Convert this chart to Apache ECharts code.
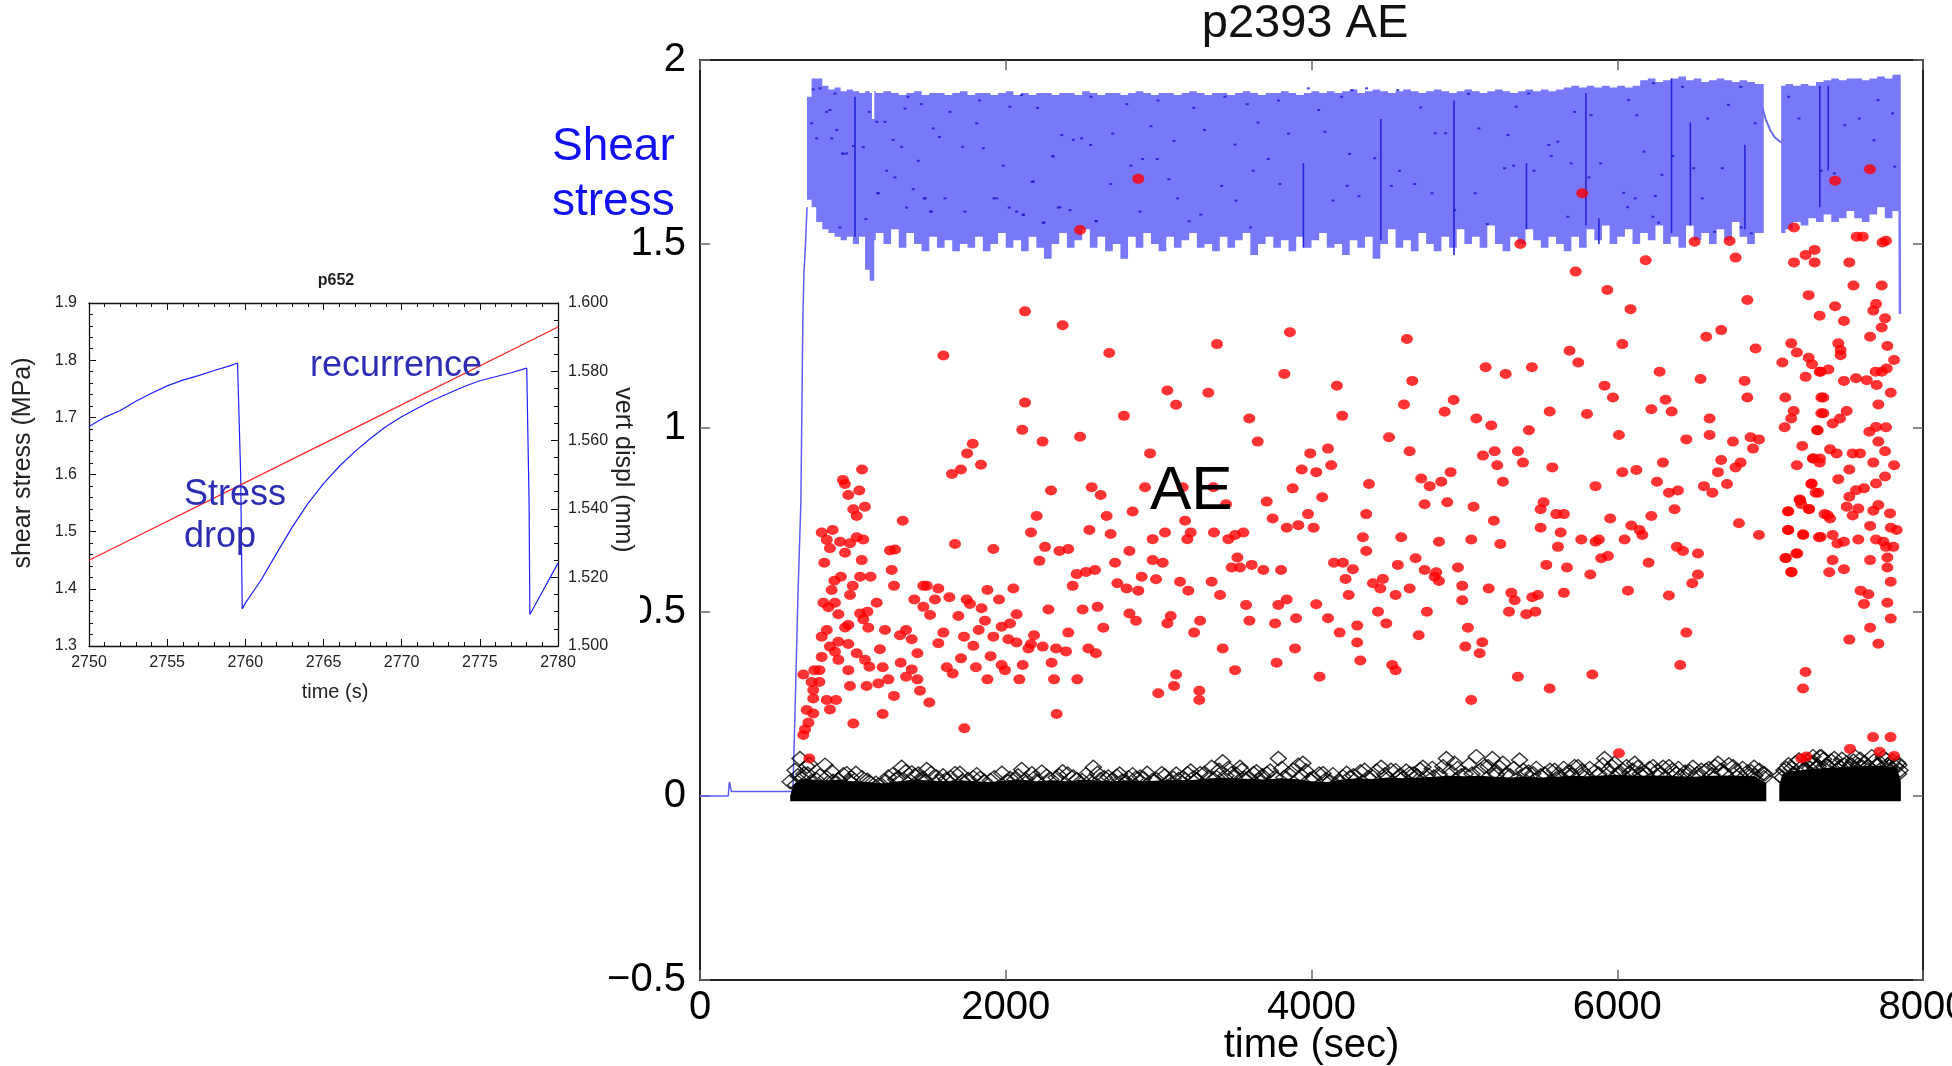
<!DOCTYPE html>
<html><head><meta charset="utf-8">
<script src="https://cdn.jsdelivr.net/npm/echarts/dist/echarts.min.js"></script>
<style>html,body{margin:0;padding:0;background:#fff}#c{width:1952px;height:1066px}</style>
</head><body><div id="c"></div>
<script>
// ---------------- DATA ----------------
// Main chart axes
const xTicks = [0, 2000, 4000, 6000, 8000];
const yTicks = [-0.5, 0, 0.5, 1, 1.5, 2];

// Shear stress: early loading ramp (time, stress)
const rampT = [0, 185, 190, 193, 200, 205, 600, 608, 621, 641, 660, 673, 680, 690, 700];
const rampV = [0.0, 0.0, 0.03, 0.038, 0.035, 0.012, 0.012, 0.02, 0.22, 0.55, 0.80, 1.30, 1.42, 1.50, 1.60];

// Shear stress stick-slip band, segment 1 (step start times, upper / lower envelope)
const band1T = [700,730,760,800,840,880,920,960,1000,1040,1080,1110,1125,1140,
 1150,1200,1250,1300,1350,1400,1450,1500,1550,1600,1650,1700,1750,1800,1850,1900,1950,2000,
 2050,2100,2150,2200,2250,2300,2350,2400,2450,2500,2550,2600,2650,2700,2750,2800,2850,2900,
 2950,3000,3050,3100,3150,3200,3250,3300,3350,3400,3450,3500,3550,3600,3650,3700,3750,3800,
 3850,3900,3950,4000,4050,4100,4150,4200,4250,4300,4350,4400,4450,4500,4550,4600,4650,4700,
 4750,4800,4850,4900,4950,5000,5050,5100,5150,5200,5250,5300,5350,5400,5450,5500,5550,5600,
 5650,5700,5750,5800,5850,5900,5950,6000,6050,6100,6150,6200,6250,6300,6350,6400,6450,6500,
 6550,6600,6650,6700,6750,6800,6850,6900];
const band1Hi = [1.90,1.95,1.95,1.93,1.92,1.925,1.915,1.92,1.915,1.91,1.915,1.91,1.84,1.915,
 1.91,1.915,1.91,1.905,1.91,1.915,1.905,1.91,1.91,1.905,1.91,1.915,1.905,1.91,1.91,1.905,1.91,1.915,
 1.905,1.91,1.905,1.91,1.91,1.905,1.91,1.91,1.905,1.915,1.91,1.905,1.91,1.91,1.905,1.91,1.915,1.91,
 1.905,1.91,1.91,1.905,1.91,1.915,1.91,1.905,1.91,1.91,1.905,1.91,1.915,1.91,1.905,1.91,1.91,1.915,
 1.91,1.905,1.91,1.915,1.91,1.915,1.91,1.915,1.92,1.91,1.915,1.92,1.915,1.91,1.915,1.92,1.915,1.91,
 1.915,1.92,1.915,1.91,1.915,1.92,1.915,1.91,1.915,1.92,1.915,1.91,1.915,1.92,1.915,1.92,1.915,1.92,
 1.925,1.93,1.925,1.93,1.925,1.93,1.925,1.93,1.925,1.93,1.945,1.95,1.94,1.945,1.95,1.955,1.945,1.95,
 1.94,1.945,1.95,1.945,1.94,1.945,1.94,1.935];
const band1Lo = [1.62,1.60,1.56,1.54,1.53,1.52,1.51,1.52,1.50,1.52,1.43,1.40,1.40,1.51,
 1.53,1.50,1.54,1.49,1.53,1.50,1.48,1.52,1.49,1.51,1.48,1.50,1.49,1.52,1.48,1.50,1.53,1.49,
 1.51,1.48,1.52,1.49,1.46,1.50,1.53,1.49,1.51,1.54,1.49,1.52,1.48,1.50,1.46,1.52,1.49,1.53,
 1.50,1.48,1.52,1.49,1.51,1.53,1.49,1.50,1.48,1.52,1.49,1.51,1.53,1.47,1.50,1.52,1.49,1.51,
 1.48,1.52,1.49,1.51,1.53,1.49,1.50,1.47,1.51,1.49,1.52,1.46,1.50,1.54,1.49,1.51,1.48,1.53,
 1.50,1.48,1.52,1.49,1.54,1.50,1.52,1.49,1.55,1.50,1.48,1.52,1.50,1.54,1.51,1.49,1.52,1.50,
 1.48,1.52,1.49,1.54,1.51,1.55,1.50,1.52,1.54,1.50,1.53,1.51,1.55,1.50,1.52,1.49,1.55,1.51,
 1.53,1.50,1.54,1.51,1.56,1.52,1.50,1.53];
const band1End = 6958;
// segment 2 (after the pause)
const band2T  = [7072,7100,7150,7200,7250,7300,7350,7400,7450,7500,7550,7600,7650,7700,7750,7800];
const band2Hi = [1.93,1.935,1.93,1.935,1.93,1.94,1.945,1.95,1.945,1.95,1.95,1.945,1.95,1.955,1.95,1.96];
const band2Lo = [1.53,1.54,1.56,1.55,1.57,1.56,1.58,1.56,1.57,1.59,1.57,1.56,1.58,1.60,1.57,1.59];
const band2End = 7846;
// relaxation during pause, and final unloading
const gapT = [6950, 6970, 7000, 7030, 7060, 7075];
const gapV = [1.87, 1.84, 1.81, 1.79, 1.78, 1.775];
const endT = [7846, 7847, 7849];
const endV = [1.96, 1.60, 1.31];
// large stress drops [time, top, bottom]
const bigDrops = [[1014,1.90,1.52],[3947,1.72,1.49],[4454,1.84,1.51],[4932,1.89,1.47],[5406,1.72,1.54],
 [5795,1.91,1.55],[5880,1.57,1.50],[6355,1.95,1.53],[6478,1.83,1.55],[6835,1.77,1.54],[7325,1.93,1.60],[7380,1.93,1.70]];
// isolated sampled stress points inside the band
const stressSamples = [[937,1.745],[1221,1.699],[1275,1.681],[1428,1.726],[1395,1.649],[1162,1.638],[1467,1.624],[1602,1.624],
 [1351,1.599],[1508,1.588],[1733,1.588],[1923,1.624],[1984,1.713],[2173,1.669],[2306,1.739],[2023,1.599],[2114,1.580],
 [2343,1.599],[2420,1.592],[2590,1.562],[2250,1.558],[2686,1.663],[2819,1.713],[2895,1.731],[2991,1.731],[3067,1.676],
 [3124,1.624],[2878,1.588],[3200,1.562],[3276,1.580],[3412,1.658],[3505,1.618],[3619,1.699],[3601,1.545],[3793,1.663],
 [3717,1.731],[915,1.545],[1085,1.568],[741,1.920],[785,1.923],[883,1.909],[730,1.828],[763,1.787],[850,1.864],[828,1.859],
 [894,1.810],[959,1.746],[933,1.746],[861,1.787],[1003,1.766],[1068,1.763],[1166,1.638],[1264,1.783],[1156,1.832],
 [1107,1.859],[1210,1.832],[1319,1.764],[1341,1.868],[1472,1.624],[1515,1.588],[1526,1.814],[1566,1.791],[1635,1.859],
 [1718,1.764],[1810,1.828],[1853,1.760],[2180,1.670],[2311,1.738],[2366,1.796],[2442,1.783],[2496,1.787],[2555,1.769],
 [2071,1.588],[2115,1.579],[2245,1.558],[2354,1.600],[2594,1.562],[1941,1.624],[2027,1.873],[2104,1.905],
 [1361,1.90],[1448,1.88],[1828,1.89],[2208,1.87],[2558,1.90],[2792,1.88],[2996,1.89],[3230,1.87],[3434,1.90],[3580,1.88],
 [3784,1.89],[2700,1.80],[2950,1.82],[3100,1.78],[3300,1.81],[3500,1.77],[3650,1.83],[3850,1.80],
 [4249,1.745],[4413,1.733],[4576,1.699],[4234,1.658],[4310,1.630],[4140,1.618],[4522,1.658],[4674,1.663],[4788,1.638],
 [4936,1.592],[5071,1.638],[5150,1.554],[5263,1.706],[5322,1.713],[5455,1.699],[5568,1.739],[5699,1.719],[5677,1.574],
 [5815,1.681],[5891,1.719],[6042,1.639],[6118,1.624],[6068,1.600],[6175,1.751],[6249,1.630],[6292,1.688],[6233,1.574],
 [6271,1.558],[6364,1.739],[6500,1.706],[6556,1.624],[6687,1.706],[6637,1.533],[6811,1.545],[6877,1.529],[7335,1.699],
 [3979,1.923],[4047,1.864],[4088,1.805],[4197,1.900],[4265,1.918],[4360,1.923],[4564,1.918],[4714,1.871],[4809,1.801],
 [4877,1.801],[5027,1.908],[5095,1.814],[5285,1.796],[5339,1.873],[5421,1.909],[5552,1.769],[5611,1.778],[5720,1.859],
 [5829,1.850],[6074,1.891],[6128,1.850],[6237,1.937],[6427,1.927],[6591,1.841],[6727,1.878],[6808,1.927],[6903,1.828],
 [7121,1.900],[7189,1.841],[7488,1.823],[7584,1.841],[7706,1.891],[7801,1.855],[7679,1.782],[7815,1.710],[7420,1.692]];

// AE events (red): [time, amplitude]
const aeRed = [[2867,1.677],[2486,1.538],[2126,1.317],[2372,1.279],[1592,1.197],[2677,1.204],[3382,1.228],[3859,1.260],
 [3822,1.147],[3057,1.102],[3114,1.063],[3325,1.096],[3593,1.026],[3648,0.963],[2126,1.069],[2773,1.033],[2108,0.995],
 [2241,0.963],[2486,0.976],[2944,0.931],[1784,0.957],[1747,0.931],[1838,0.900],[1707,0.887],[1648,0.875],[1060,0.887],
 [3936,0.887],[935,0.859],
 [948,0.848],[970,0.818],[1042,0.830],[1079,0.786],[1003,0.779],[1025,0.761],[1326,0.748],[796,0.716],[868,0.723],
 [829,0.696],[850,0.673],[916,0.691],[949,0.661],[981,0.687],[1025,0.703],[1068,0.697],[813,0.634],[1058,0.641],
 [879,0.585],[922,0.596],[861,0.560],[999,0.571],[1047,0.596],[1116,0.596],[981,0.546],[807,0.525],[883,0.525],
 [840,0.513],[1156,0.525],[905,0.494],[1047,0.496],[1095,0.501],[1068,0.480],[1101,0.457],[829,0.451],[949,0.458],
 [970,0.465],[796,0.433],[850,0.406],[905,0.419],[970,0.413],[883,0.392],[796,0.378],[905,0.370],[1025,0.388],
 [1079,0.370],[1177,0.399],[1210,0.451],[1276,0.670],[1243,0.667],[1254,0.614],[1269,0.571],[748,0.342],[781,0.342],
 [676,0.330],[730,0.310],[781,0.310],[741,0.288],[741,0.265],[829,0.261],[890,0.261],[850,0.235],[698,0.234],[741,0.224],
 [709,0.199],[687,0.181],[676,0.166],[715,0.102],[981,0.299],[970,0.342],[1108,0.351],[1195,0.350],[1090,0.299],
 [1167,0.306],[1232,0.317],[1269,0.272],[1195,0.223],[1003,0.197],[1313,0.362],[1348,0.324],[1385,0.344],[1422,0.317],
 [1439,0.286],[1500,0.254],[1422,0.388],[1385,0.426],[1308,0.437],[1348,0.451],[1402,0.534],[1461,0.514],[1505,0.492],
 [1461,0.571],[1483,0.571],[1537,0.534],[1559,0.564],[1631,0.540],[1592,0.444],[1559,0.415],[1614,0.350],[1653,0.333],
 [1729,0.184],[1668,0.685],[1919,0.671],[1744,0.534],[1766,0.522],[1690,0.489],[1842,0.510],[1880,0.560],[1956,0.534],
 [2050,0.564],[2071,0.494],[1864,0.476],[1823,0.451],[1727,0.433],[1788,0.408],[1919,0.433],[1973,0.460],[2028,0.469],
 [2017,0.426],[2071,0.417],[1707,0.374],[1805,0.350],[1901,0.380],[1973,0.356],[1995,0.342],[1880,0.317],[2089,0.317],
 [2111,0.356],[2148,0.401],[2185,0.437],[2242,0.406],[2165,0.413],[2279,0.507],[2220,0.639],[2257,0.677],[2202,0.761],
 [2165,0.716],[2296,0.830],[2351,0.666],[2409,0.671],[2438,0.571],[2464,0.603],[2525,0.609],[2584,0.614],[2503,0.507],
 [2601,0.514],[2409,0.444],[2329,0.401],[2394,0.393],[2300,0.362],[2316,0.317],[2468,0.317],[2333,0.223],[2540,0.401],
 [2590,0.388],[2638,0.457],[2547,0.723],[2562,0.839],[2621,0.818],[2660,0.761],[2686,0.712],[2715,0.634],[2730,0.578],
 [2791,0.564],[2867,0.558],[2809,0.666],[2830,0.773],[2911,0.839],[2889,0.596],[2809,0.496],[2852,0.476],[2961,0.698],
 [2961,0.641],[3027,0.634],[2983,0.589],[3042,0.716],[3140,0.582],[3194,0.558],[3173,0.748],[3210,0.716],[3188,0.698],
 [3157,0.839],[3358,0.839],[3441,0.793],[3362,0.716],[3456,0.698],[3500,0.709],[3554,0.716],[3515,0.648],[3478,0.621],
 [3532,0.621],[3609,0.628],[3685,0.614],[3801,0.614],[3347,0.582],[3402,0.546],[3572,0.519],[3594,0.476],[3783,0.519],
 [3838,0.534],[3762,0.469],[3899,0.483],[3892,0.401],[3772,0.362],[3500,0.342],[3419,0.401],[3079,0.489],[3057,0.469],
 [3271,0.476],[3232,0.444],[3114,0.330],[3101,0.299],[2998,0.279],[3266,0.286],[3266,0.261],[3707,0.800],[3746,0.754],
 [3838,0.729],[3877,0.836],[3914,0.736],
 [5771,1.638],[5366,1.500],[5728,1.425],[6186,1.456],[5935,1.375],[6087,1.323],[6506,1.506],[6735,1.508],[6774,1.463],
 [7156,1.545],[7232,1.470],[7291,1.484],[7156,1.450],[7291,1.450],[6851,1.348],[7252,1.361],[7324,1.305],[6680,1.266],
 [6582,1.248],[6033,1.228],[5688,1.210],[5745,1.178],[6905,1.216],[7138,1.230],[7175,1.205],[7080,1.178],[7252,1.191],
 [7274,1.173],[7324,1.153],[7232,1.139],[6277,1.153],[6545,1.133],[6833,1.128],[6851,1.083],[7099,1.083],[7335,1.083],
 [7154,1.046],[7138,1.026],[7095,1.002],[7308,0.994],[7335,1.040],[4624,1.242],[5139,1.165],[5270,1.147],[5442,1.165],
 [4659,1.128],[4166,1.115],[4605,1.064],[4930,1.076],[4871,1.044],[4201,1.033],[5078,1.026],[5176,1.007],[5558,1.045],
 [5802,1.038],[5422,0.994],[5917,1.115],[5972,1.083],[6223,1.051],[6316,1.077],[6356,1.045],[6604,1.026],[6604,0.981],
 [6452,0.969],[6011,0.981],[4507,0.975],[4642,0.937],[4108,0.944],[3992,0.931],[4129,0.899],[4031,0.880],[5198,0.937],
 [5121,0.925],[5350,0.937],[5215,0.899],[5383,0.906],[4910,0.880],[5575,0.893],[6757,0.963],[6872,0.975],[6927,0.969],
 [6888,0.944],[6680,0.913],[6807,0.906],[6774,0.893],[6659,0.880],[6299,0.906],[6125,0.886],[6033,0.880],[7210,0.951],
 [7175,0.899],[7280,0.917],[7324,0.906],[4718,0.863],
 [4376,0.848],[4773,0.842],[4849,0.854],[5252,0.854],[5858,0.842],[6260,0.854],[6338,0.824],[6397,0.830],[6567,0.842],
 [6622,0.824],[6718,0.848],[7269,0.848],[7298,0.824],[7193,0.806],[7204,0.793],[7254,0.779],[7117,0.773],[7356,0.766],
 [7117,0.723],[7215,0.711],[7319,0.703],[7171,0.659],[7101,0.646],[7138,0.609],[7232,0.337],[7215,0.292],[7237,0.107],
 [7204,0.102],[6011,0.116],[4070,0.812],[3977,0.766],[4014,0.729],[4358,0.766],[4336,0.703],[4358,0.666],[4147,0.634],
 [4206,0.634],[4271,0.616],[4223,0.590],[4243,0.546],[4402,0.578],[4467,0.590],[4450,0.564],[4550,0.546],[4565,0.628],
 [4587,0.703],[4681,0.646],[4740,0.614],[4740,0.793],[4888,0.798],[4834,0.691],[4816,0.608],[4805,0.596],[4834,0.584],
 [4642,0.564],[4031,0.521],[4108,0.483],[4184,0.444],[4299,0.463],[4299,0.417],[4319,0.368],[4435,0.501],[4489,0.469],
 [4528,0.356],[4550,0.342],[4755,0.501],[4701,0.437],[4053,0.324],[5060,0.786],[5045,0.697],[4958,0.621],[4986,0.571],
 [4986,0.532],[5023,0.457],[5006,0.406],[5117,0.418],[5100,0.388],[5045,0.261],[5193,0.748],[5235,0.685],[5159,0.564],
 [5307,0.552],[5329,0.532],[5292,0.501],[5350,0.324],[5444,0.540],[5481,0.546],[5405,0.494],[5464,0.501],[5518,0.798],
 [5499,0.779],[5601,0.766],[5651,0.766],[5499,0.729],[5630,0.716],[5612,0.677],[5536,0.628],[5671,0.621],[5651,0.552],
 [5558,0.292],[5837,0.330],[5765,0.697],[5824,0.602],[5858,0.691],[5880,0.697],[5895,0.646],[5939,0.652],[5954,0.754],
 [6048,0.697],[6092,0.735],[6146,0.723],[6164,0.709],[6223,0.761],[6375,0.779],[6205,0.634],[6070,0.558],[6338,0.545],
 [6390,0.677],[6430,0.666],[6528,0.659],[6528,0.602],[6491,0.578],[6452,0.444],[6412,0.356],[6796,0.741],[6927,0.709],
 [7653,1.703],[7425,1.672],[7566,1.520],[7606,1.520],[7736,1.504],[7758,1.509],[7518,1.450],[7545,1.387],[7730,1.387],
 [7425,1.331],[7483,1.291],[7693,1.337],[7675,1.319],[7752,1.298],[7654,1.248],[7730,1.273],[7767,1.223],[7811,1.185],
 [7763,1.162],[7730,1.153],[7690,1.153],[7632,1.130],[7697,1.117],[7789,1.096],[7708,1.064],[7562,1.135],[7483,1.128],
 [7446,1.230],[7461,1.212],[7461,1.198],[7381,1.159],[7331,1.153],[7348,1.083],[7348,1.040],[7501,1.046],[7457,1.026],
 [7409,1.012],[7311,0.994],[7649,0.990],[7693,1.003],[7758,1.002],[7708,0.963],[7752,0.937],[7811,0.899],[7675,0.906],
 [7588,0.931],[7540,0.931],[7435,0.931],[7392,0.942],[7326,0.917],[7283,0.917],[7518,0.887],[7446,0.861],[7272,0.849],
 [7315,0.824],[7196,0.804],[7255,0.780],[7119,0.774],[7119,0.723],[7217,0.709],[7178,0.659],[7102,0.647],[7141,0.608],
 [7331,0.704],[7409,0.709],[7376,0.763],[7392,0.754],[7440,0.686],[7483,0.691],[7409,0.641],[7387,0.608],[7483,0.616],
 [7501,0.786],[7540,0.762],[7577,0.781],[7518,0.813],[7562,0.831],[7614,0.836],[7693,0.849],[7752,0.868],[7675,0.775],
 [7708,0.791],[7784,0.768],[7654,0.734],[7789,0.729],[7828,0.723],[7577,0.697],[7693,0.697],[7741,0.691],[7758,0.677],
 [7806,0.677],[7767,0.648],[7654,0.641],[7767,0.621],[7789,0.582],[7592,0.558],[7643,0.548],[7614,0.522],[7767,0.525],
 [7789,0.482],[7654,0.457],[7518,0.425],[7708,0.414],
 [7673,0.160],[7788,0.160],[7522,0.128],[7716,0.120],[7811,0.109]];

// Small AE events (black diamonds): dense core envelope + individual events
const coreT1 = [590,610,650,700,800,900,1000,1100,1200,1300,1400,1500,1600,1700,1800,1900,2000,2100,2200,2300,2400,
 2500,2600,2700,2800,2900,3000,3100,3200,3300,3400,3500,3600,3700,3800,3900,4000,4100,4200,4300,4400,4500,4600,4700,
 4800,4900,5000,5100,5200,5300,5400,5500,5600,5700,5800,5900,6000,6100,6200,6300,6400,6500,6600,6700,6800,6900,6975];
const coreTop1 = [0.0,0.03,0.045,0.046,0.042,0.044,0.04,0.038,0.034,0.04,0.045,0.042,0.04,0.043,0.04,0.038,0.042,0.045,
 0.04,0.043,0.04,0.044,0.042,0.04,0.043,0.04,0.042,0.044,0.043,0.046,0.05,0.048,0.046,0.045,0.048,0.046,0.04,0.038,0.045,
 0.048,0.046,0.05,0.048,0.05,0.052,0.055,0.054,0.055,0.052,0.05,0.052,0.05,0.052,0.055,0.054,0.056,0.058,0.056,0.055,
 0.056,0.054,0.052,0.055,0.056,0.055,0.054,0.035];
const coreT2 = [7060,7080,7150,7250,7350,7450,7550,7650,7750,7830,7855];
const coreTop2 = [0.03,0.06,0.068,0.072,0.076,0.078,0.08,0.082,0.082,0.075,0.04];
const coreBottom = -0.014;
const aeDiamonds = [[589,0.039],[621,0.070],[654,0.102],[715,0.087],[818,0.084],[959,0.061],[1095,0.043],[1232,0.052],
 [1319,0.078],[1385,0.063],[1428,0.060],[1483,0.072],[1548,0.052],[1668,0.061],[1788,0.050],[1832,0.048],[2028,0.048],
 [2104,0.072],[2170,0.061],[2268,0.054],[2372,0.066],[2442,0.052],[2573,0.078],[2671,0.052],[2726,0.054],[2802,0.050],
 [2900,0.048],[3020,0.061],[3096,0.048],[3188,0.061],[3271,0.061],[3347,0.078],[3419,0.093],[3478,0.061],[3532,0.078],
 [3620,0.061],[3707,0.061],[3783,0.102],[3914,0.084],[3944,0.089],[4075,0.061],[4206,0.052],[4347,0.070],[4456,0.078],
 [4550,0.069],[4642,0.061],[4729,0.078],[4882,0.102],[4936,0.089],[5078,0.107],[5132,0.080],[5183,0.102],[5252,0.089],
 [5361,0.098],[5449,0.061],[5590,0.070],[5666,0.061],[5743,0.080],[5917,0.102],[5983,0.089],[6037,0.070],[6114,0.089],
 [6190,0.061],[6234,0.080],[6338,0.080],[6386,0.061],[6473,0.066],[6582,0.070],[6659,0.089],[6757,0.080],[6877,0.066],
 [6953,0.061],[7106,0.075],[7189,0.098],[7270,0.089],[7280,0.107],[7325,0.107],[7335,0.107],[7420,0.102],[7488,0.084],
 [7556,0.107],[7665,0.107],[7760,0.098],[7842,0.084],
 [640,0.055],[680,0.06],[700,0.08],[760,0.045],[870,0.04],[990,0.05],[1150,0.035],[1280,0.045],[1450,0.04],[1610,0.045],
 [1720,0.04],[1900,0.042],[2060,0.045],[2200,0.04],[2330,0.05],[2500,0.042],[2620,0.045],[2760,0.04],[2850,0.048],
 [2960,0.042],[3130,0.045],[3230,0.05],[3380,0.05],[3560,0.048],[3660,0.045],[3820,0.05],[3990,0.045],[4120,0.04],
 [4250,0.05],[4400,0.052],[4500,0.048],[4600,0.05],[4690,0.055],[4800,0.052],[4980,0.055],[5050,0.06],[5210,0.058],
 [5300,0.055],[5400,0.06],[5500,0.055],[5630,0.052],[5700,0.058],[5800,0.055],[5880,0.06],[6000,0.058],[6080,0.062],
 [6150,0.06],[6280,0.058],[6420,0.055],[6520,0.06],[6620,0.058],[6700,0.062],[6800,0.058],[6900,0.055],[6960,0.05],
 [7080,0.05],[7150,0.06],[7230,0.07],[7300,0.075],[7380,0.08],[7460,0.078],[7530,0.085],[7600,0.08],[7700,0.085],
 [7780,0.08],[7840,0.06],
 [625,0.03],[668,0.048],[705,0.06],[742,0.038],[785,0.055],[828,0.05],[862,0.066],[905,0.045],[938,0.058],[977,0.04],
 [1020,0.062],[1060,0.05],[1108,0.038],[1170,0.03],[1215,0.04],[1260,0.058],[1300,0.05],[1345,0.066],[1405,0.055],
 [1460,0.048],[1512,0.062],[1565,0.04],[1590,0.055],[1640,0.05],[1700,0.062],[1755,0.045],[1810,0.058],[1860,0.04],
 [1925,0.05],[1975,0.062],[2010,0.04],[2080,0.055],[2130,0.045],[2190,0.05],[2235,0.065],[2295,0.045],[2350,0.055],
 [2405,0.06],[2465,0.045],[2525,0.058],[2550,0.04],[2600,0.062],[2645,0.05],[2700,0.045],[2745,0.06],[2790,0.038],
 [2830,0.058],[2880,0.052],[2925,0.062],[2985,0.045],[3040,0.055],[3070,0.04],[3115,0.06],[3160,0.05],[3210,0.068],
 [3250,0.045],[3300,0.062],[3330,0.05],[3395,0.07],[3440,0.055],[3455,0.075],[3505,0.06],[3545,0.07],[3590,0.05],
 [3640,0.066],[3680,0.055],[3730,0.068],[3760,0.05],[3805,0.075],[3850,0.06],[3880,0.07],[3935,0.055],[3965,0.068],
 [4010,0.05],[4050,0.06],[4095,0.045],[4140,0.058],[4180,0.04],[4230,0.062],[4275,0.055],[4320,0.066],[4370,0.05],
 [4425,0.068],[4480,0.058],[4520,0.07],[4575,0.055],[4620,0.068],[4665,0.06],[4710,0.072],[4760,0.058],[4790,0.075],
 [4835,0.06],[4860,0.08],[4905,0.068],[4955,0.075],[5005,0.06],[5030,0.085],[5105,0.07],[5155,0.08],[5200,0.065],
 [5230,0.078],[5275,0.06],[5325,0.075],[5385,0.07],[5420,0.065],[5470,0.075],[5525,0.06],[5560,0.07],[5610,0.058],
 [5650,0.075],[5690,0.065],[5720,0.08],[5770,0.068],[5820,0.075],[5850,0.065],[5905,0.085],[5940,0.07],[5965,0.08],
 [6015,0.065],[6060,0.08],[6100,0.07],[6135,0.078],[6175,0.065],[6210,0.075],[6260,0.068],[6300,0.078],[6360,0.07],
 [6400,0.075],[6445,0.065],[6495,0.078],[6550,0.07],[6600,0.075],[6640,0.08],[6680,0.07],[6730,0.085],[6775,0.07],
 [6820,0.075],[6850,0.065],[6895,0.078],[6930,0.07],[6965,0.06],
 [7065,0.055],[7090,0.07],[7120,0.085],[7140,0.075],[7165,0.09],[7210,0.08],[7245,0.095],[7260,0.075],[7290,0.09],
 [7315,0.08],[7350,0.1],[7370,0.085],[7400,0.095],[7440,0.085],[7470,0.1],[7500,0.09],[7520,0.075],[7545,0.095],
 [7575,0.085],[7590,0.1],[7620,0.09],[7640,0.08],[7680,0.095],[7720,0.09],[7740,0.105],[7770,0.085],[7800,0.095],
 [7820,0.08],[7835,0.09],[7850,0.07]];

// Inset p652
const insetT = [2750,2751,2752,2753,2754,2755,2756,2757,2758,2759,2759.5,2759.6,2759.7,2759.8,2760,2761,2762,2763,2764,
 2765,2766,2767,2768,2769,2770,2771,2772,2773,2774,2775,2776,2777,2778,2778.1,2778.15,2778.2,2779,2779.5,2780];
const insetStress = [1.684,1.700,1.712,1.728,1.742,1.755,1.765,1.773,1.782,1.790,1.795,1.792,1.602,1.365,1.375,1.415,
 1.462,1.508,1.549,1.584,1.614,1.640,1.663,1.684,1.701,1.716,1.730,1.742,1.754,1.764,1.771,1.778,1.786,1.783,1.55,
 1.355,1.395,1.42,1.445];
const insetDisplT = [2750, 2765, 2780];
const insetDispl = [1.525, 1.559, 1.593];

// ---------------- CHART ----------------
const FONT = 'Liberation Sans, Arial, Helvetica, sans-serif';
const BAND = '#7878f8';
const chart = echarts.init(document.getElementById('c'), null, {renderer: 'canvas'});
const pairs = (T, V) => T.map((t, i) => [t, V[i]]);

function stepPoly(api, T, HI, LO, end) {
  const pts = [];
  const n = T.length;
  for (let i = 0; i < n; i++) {
    const t2 = i < n - 1 ? T[i + 1] : end;
    pts.push(api.coord([T[i], HI[i]]));
    pts.push(api.coord([t2, HI[i]]));
  }
  for (let i = n - 1; i >= 0; i--) {
    const t2 = i < n - 1 ? T[i + 1] : end;
    pts.push(api.coord([t2, LO[i]]));
    pts.push(api.coord([T[i], LO[i]]));
  }
  return {type: 'polygon', shape: {points: pts}, style: {fill: BAND}};
}
function corePoly(api, T, TOP) {
  const pts = T.map((t, i) => api.coord([t, TOP[i]]));
  pts.push(api.coord([T[T.length - 1], coreBottom]));
  pts.push(api.coord([T[0], coreBottom]));
  return {type: 'polygon', shape: {points: pts}, style: {fill: '#000'}};
}

const mainAxisLine = {show: true, onZero: false, lineStyle: {color: '#222', width: 2}};
const mainTick = {show: true, inside: true, length: 10, lineStyle: {color: '#666', width: 1.5}};
const inAxisLine = {show: true, onZero: false, lineStyle: {color: '#111', width: 1.3}};
const inTick = {show: true, inside: true, length: 7, lineStyle: {color: '#111', width: 1}};
const inMinor = (n) => ({show: true, splitNumber: n, length: 4, lineStyle: {color: '#111', width: 1}});
const plain = v => String(v);
const txt = (x, y, text, size, color, extra) => Object.assign({type: 'text', x: x, y: y, z: 20, silent: true,
  style: Object.assign({text: text, fontSize: size, fontFamily: FONT, fill: color,
    textAlign: 'left', textVerticalAlign: 'middle', align: 'left', verticalAlign: 'middle'}, (extra && extra.style) || {})},
  (extra && extra.el) || {});

const option = {
  animation: false,
  backgroundColor: '#fff',
  textStyle: {fontFamily: FONT},
  grid: [
    {left: 700, top: 60, width: 1223, height: 920, containLabel: false, outerBoundsMode: 'none'},
    {left: 89, top: 303, width: 469, height: 343, containLabel: false, outerBoundsMode: 'none'}
  ],
  xAxis: [
    {gridIndex: 0, type: 'value', min: xTicks[0], max: xTicks[xTicks.length - 1], interval: xTicks[1] - xTicks[0],
     position: 'bottom', axisLine: mainAxisLine, axisTick: mainTick, splitLine: {show: false},
     axisLabel: {fontSize: 40, color: '#000', margin: 8, showMinLabel: true, showMaxLabel: true, fontFamily: FONT, formatter: plain},
     name: 'time (sec)', nameLocation: 'middle', nameGap: 46, nameMoveOverlap: false,
     nameTextStyle: {fontSize: 40, color: '#000', fontFamily: FONT}},
    {gridIndex: 0, type: 'value', min: xTicks[0], max: xTicks[xTicks.length - 1], interval: xTicks[1] - xTicks[0],
     position: 'top', axisLine: mainAxisLine, axisTick: mainTick, splitLine: {show: false}, axisLabel: {show: false}},
    {gridIndex: 1, type: 'value', min: 2750, max: 2780, interval: 5, position: 'bottom', z: 10,
     axisLine: inAxisLine, axisTick: inTick, minorTick: inMinor(5), splitLine: {show: false}, minorSplitLine: {show: false},
     axisLabel: {fontSize: 16, color: '#222', margin: 9, showMinLabel: true, showMaxLabel: true, fontFamily: FONT, formatter: plain}},
    {gridIndex: 1, type: 'value', min: 2750, max: 2780, interval: 5, position: 'top', z: 10,
     axisLine: inAxisLine, axisTick: inTick, minorTick: inMinor(5), splitLine: {show: false}, axisLabel: {show: false}}
  ],
  yAxis: [
    {gridIndex: 0, type: 'value', min: yTicks[0], max: yTicks[yTicks.length - 1], interval: yTicks[1] - yTicks[0],
     position: 'left', axisLine: mainAxisLine, axisTick: mainTick, splitLine: {show: false},
     axisLabel: {fontSize: 40, color: '#000', margin: 14, showMinLabel: true, showMaxLabel: true, fontFamily: FONT,
       formatter: v => v < 0 ? '\u2212' + Math.abs(v) : String(v)}},
    {gridIndex: 0, type: 'value', min: yTicks[0], max: yTicks[yTicks.length - 1], interval: yTicks[1] - yTicks[0],
     position: 'right', axisLine: mainAxisLine, axisTick: mainTick, splitLine: {show: false}, axisLabel: {show: false}},
    {gridIndex: 1, type: 'value', min: 1.3, max: 1.9, interval: 0.1, position: 'left', z: 10,
     axisLine: inAxisLine, axisTick: inTick, minorTick: inMinor(5), splitLine: {show: false}, minorSplitLine: {show: false},
     axisLabel: {fontSize: 16, color: '#222', margin: 12, showMinLabel: true, showMaxLabel: true, fontFamily: FONT,
       formatter: v => v.toFixed(1)}},
    {gridIndex: 1, type: 'value', min: 1.5, max: 1.6, interval: 0.02, position: 'right', z: 10,
     axisLine: inAxisLine, axisTick: inTick, minorTick: inMinor(4), splitLine: {show: false}, minorSplitLine: {show: false},
     axisLabel: {fontSize: 16, color: '#222', margin: 10, showMinLabel: true, showMaxLabel: true, fontFamily: FONT,
       formatter: v => v.toFixed(3)}}
  ],
  series: [
    {type: 'custom', name: 'shear stress band', xAxisIndex: 0, yAxisIndex: 0, z: 2, silent: true, clip: true,
     data: [[band1T[0], band1Hi[0]]],
     renderItem: (p, api) => ({type: 'group', children: [
       stepPoly(api, band1T, band1Hi, band1Lo, band1End),
       stepPoly(api, band2T, band2Hi, band2Lo, band2End)]})},
    {type: 'line', name: 'ramp', xAxisIndex: 0, yAxisIndex: 0, z: 3, silent: true, symbol: 'none',
     data: pairs(rampT, rampV), lineStyle: {color: '#5c5cf0', width: 1.5}},
    {type: 'line', name: 'pause', xAxisIndex: 0, yAxisIndex: 0, z: 3, silent: true, symbol: 'none',
     data: pairs(gapT, gapV), lineStyle: {color: '#6a6af4', width: 2}},
    {type: 'line', name: 'unload', xAxisIndex: 0, yAxisIndex: 0, z: 3, silent: true, symbol: 'none',
     data: pairs(endT, endV), lineStyle: {color: BAND, width: 2.5}},
    {type: 'custom', name: 'big drops', xAxisIndex: 0, yAxisIndex: 0, z: 3, silent: true,
     data: bigDrops, encode: {x: 0, y: [1, 2]},
     renderItem: (p, api) => {
       const a = api.coord([api.value(0), api.value(1)]);
       const b = api.coord([api.value(0), api.value(2)]);
       return {type: 'line', shape: {x1: a[0], y1: a[1], x2: b[0], y2: b[1]},
               style: {stroke: '#2424d8', lineWidth: 1.6}};
     }},
    {type: 'scatter', name: 'stress samples', xAxisIndex: 0, yAxisIndex: 0, z: 3, silent: true,
     symbol: 'rect', symbolSize: [3, 2], data: stressSamples, itemStyle: {color: '#1818c8'}},
    {type: 'custom', name: 'AE core', xAxisIndex: 0, yAxisIndex: 0, z: 4, silent: true,
     data: [[coreT1[0], coreTop1[0]]],
     renderItem: (p, api) => ({type: 'group', children: [corePoly(api, coreT1, coreTop1), corePoly(api, coreT2, coreTop2)]})},
    {type: 'scatter', name: 'AE small', xAxisIndex: 0, yAxisIndex: 0, z: 5, silent: true,
     symbol: 'diamond', symbolSize: [16, 14], data: aeDiamonds,
     itemStyle: {color: 'rgba(255,255,255,0)', borderColor: '#000', borderWidth: 1.4}},
    {type: 'scatter', name: 'AE', xAxisIndex: 0, yAxisIndex: 0, z: 6, silent: true,
     symbol: 'circle', symbolSize: [12, 10], data: aeRed, itemStyle: {color: '#ff0000'}},
    {type: 'line', name: 'shear stress p652', xAxisIndex: 2, yAxisIndex: 2, z: 11, silent: true, symbol: 'none',
     data: pairs(insetT, insetStress), lineStyle: {color: '#1f1fff', width: 1.2}},
    {type: 'line', name: 'vert displ p652', xAxisIndex: 2, yAxisIndex: 3, z: 11, silent: true, symbol: 'none',
     data: pairs(insetDisplT, insetDispl), lineStyle: {color: '#ff2222', width: 1.2}}
  ],
  graphic: [
    {type: 'rect', x: 0, y: 255, z: 8, silent: true, shape: {width: 640, height: 465}, style: {fill: '#fff'}},
    txt(1305, 24, 'p2393 AE', 47, '#111', {style: {textAlign: 'center', align: 'center'}}),
    txt(552, 147, 'Shear', 46, '#1010f0'),
    txt(552, 202, 'stress', 46, '#1010f0'),
    txt(1150, 492, 'AE', 62, '#000'),
    txt(336, 281, 'p652', 16, '#222', {style: {textAlign: 'center', align: 'center', fontWeight: 'bold'}}),
    txt(310, 366, 'recurrence', 36, '#2c2cb4'),
    txt(184, 495, 'Stress', 36, '#2c2cb4'),
    txt(184, 537, 'drop', 36, '#2c2cb4'),
    // inset axis titles
    txt(335, 692, 'time (s)', 20, '#222', {style: {textAlign: 'center', align: 'center'}}),
    txt(23, 463, 'shear stress (MPa)', 25, '#222', {style: {textAlign: 'center', align: 'center'}, el: {rotation: Math.PI / 2}}),
    txt(623, 470, 'vert displ (mm)', 25, '#222', {style: {textAlign: 'center', align: 'center'}, el: {rotation: -Math.PI / 2}})
  ]
};
chart.setOption(option);
</script></body></html>
